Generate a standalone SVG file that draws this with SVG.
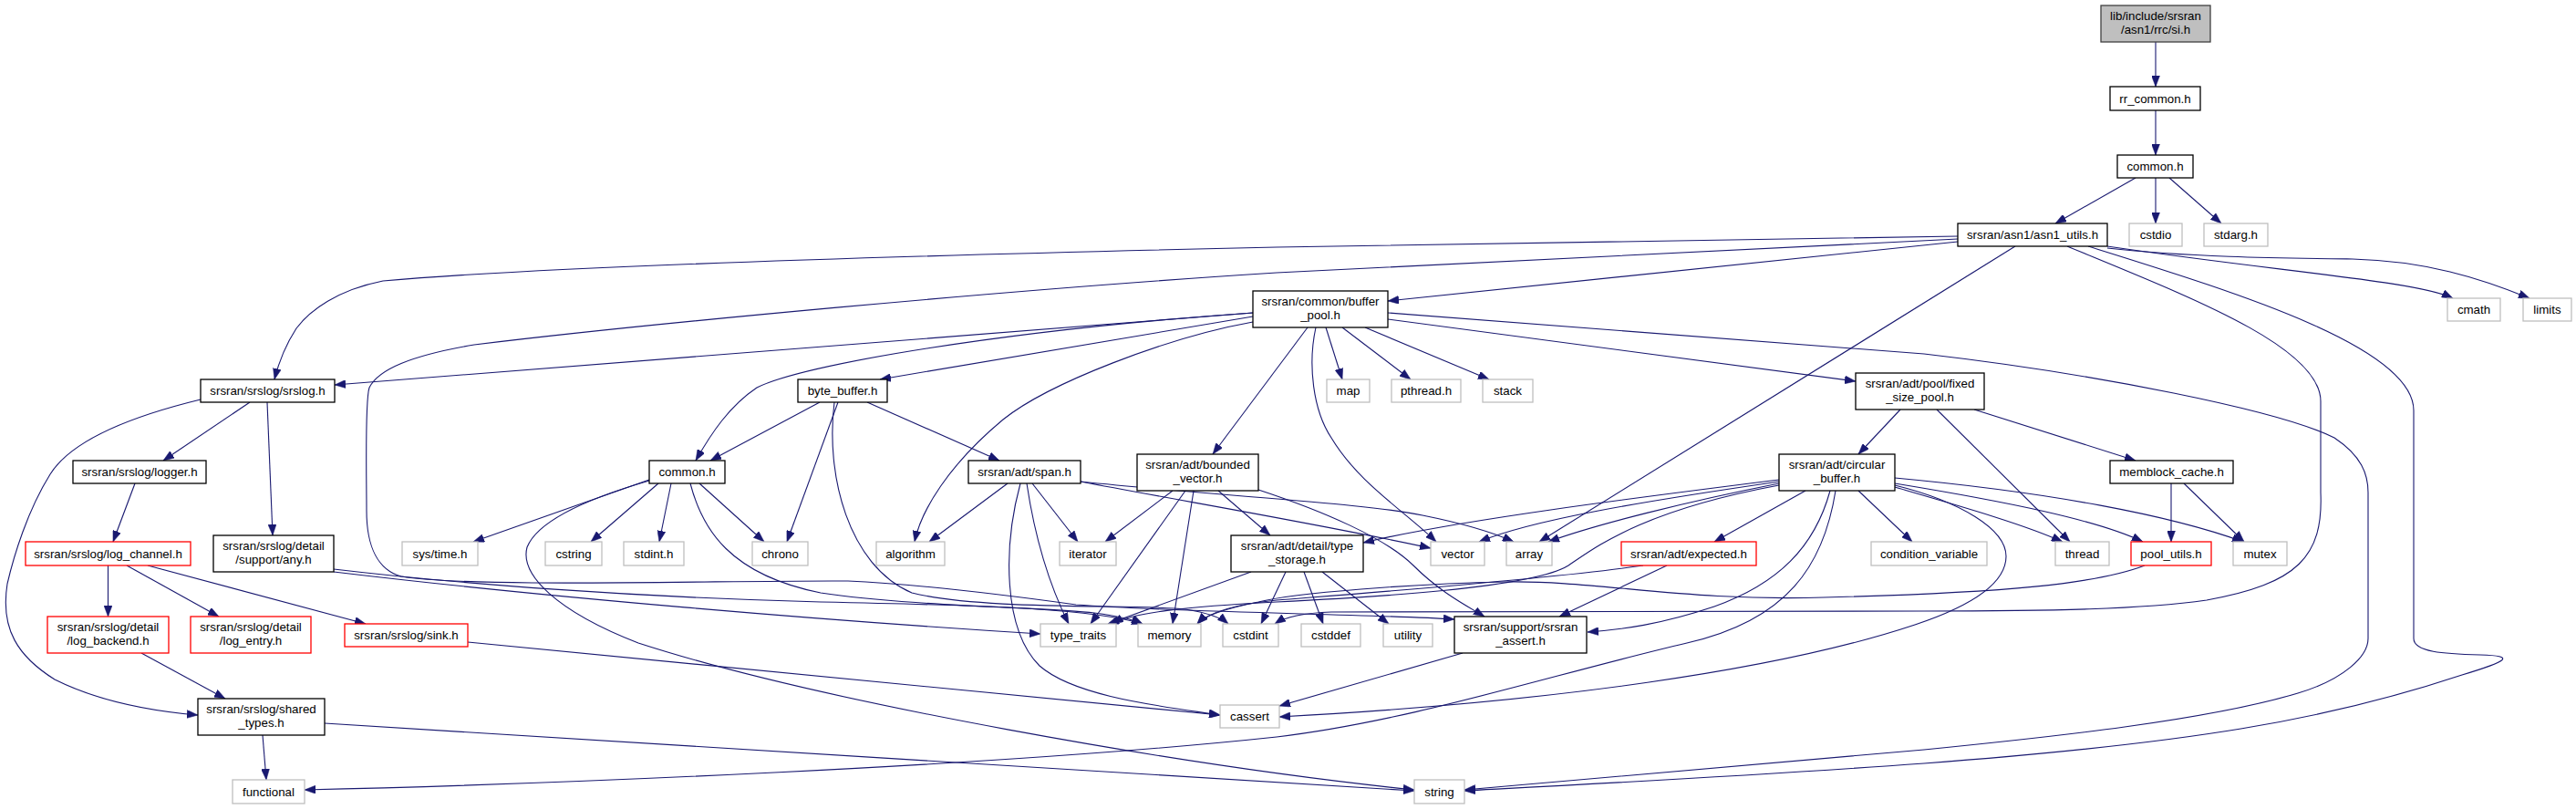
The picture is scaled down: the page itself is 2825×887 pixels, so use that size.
<svg xmlns="http://www.w3.org/2000/svg" width="2825" height="887" viewBox="0 0 2825 887">
<style>
.bg{fill:#ffffff}
.node rect{fill:#ffffff;stroke:#000000;stroke-width:1.3}
.node.ext rect{stroke:#bfbfbf}
.node.red rect{stroke:#ff0000}
.node.root rect{fill:#bfbfbf;stroke:#404040}
.node text{font-family:"Liberation Sans",Arial,Helvetica,sans-serif;font-size:13.3px;fill:#000000;text-anchor:middle}
#edges path{fill:none;stroke:#191970;stroke-width:1.1;marker-end:url(#arr)}
</style>
<defs>
<marker id="arr" viewBox="0 0 12 9" refX="12" refY="4.5" markerWidth="12" markerHeight="9" markerUnits="userSpaceOnUse" orient="auto">
<path d="M0,0 L12,4.5 L0,9 z" fill="#191970" stroke="#191970" stroke-width="0.5"/>
</marker>
</defs>
<rect class="bg" x="0" y="0" width="2825" height="887"/>
<g id="edges">
<path d="M2364,46 L2364,95"/>
<path d="M2364,121 L2364,170"/>
<path d="M2342,195 L2254,245"/>
<path d="M2364,195 L2364,245"/>
<path d="M2379,195 L2436,245"/>
<path d="M2311,270 C2500,298 2650,308 2690,327"/>
<path d="M2311,272 C2400,282 2500,283 2580,284 C2660,286 2720,305 2774,327"/>
<path d="M2210,270 L1688,594"/>
<path d="M2267,270 C2400,325 2545,380 2545,440 L2545,540 C2548,610 2520,640 2420,658 C2350,668 2250,670 2110,670 L1460,671 C1430,672 1410,676 1398,684"/>
<path d="M2290,270 C2450,320 2647,380 2647,450 L2647,700 C2647,715 2680,717 2720,718 C2760,719 2750,725 2700,740 C2550,790 2400,815 2110,837 C1900,852 1700,862 1606,867"/>
<path d="M2147,259 L1400,271 C1000,280 600,292 420,308 C370,318 340,340 325,360 C312,380 305,400 301,416"/>
<path d="M2147,262 L1400,299 C1100,318 700,356 520,378 C450,390 415,405 405,425 C400,440 402,520 402,560 C402,600 415,625 440,632 C520,645 800,636 930,637 C1000,640 1100,652 1180,663 C1300,672 1500,673 1595,679"/>
<path d="M2147,265 L1522,330"/>
<path d="M1374,343 L367,422"/>
<path d="M1374,343 C1100,362 880,400 830,425 C800,445 780,475 763,505"/>
<path d="M1374,347 L965,416"/>
<path d="M1374,353 C1280,370 1150,420 1100,460 C1040,510 1010,560 1003,594"/>
<path d="M1434,359 L1330,498"/>
<path d="M1443,359 C1434,400 1440,450 1460,480 C1490,530 1540,560 1575,594"/>
<path d="M1454,359 L1472,416"/>
<path d="M1472,359 L1547,416"/>
<path d="M1497,359 L1633,416"/>
<path d="M1522,350 L2035,418"/>
<path d="M1522,343 L2110,388 C2300,410 2500,450 2560,480 C2590,500 2597,520 2597,540 L2597,700 C2597,720 2570,745 2520,760 C2420,790 2250,808 2110,822 C1900,840 1700,858 1606,866"/>
<path d="M274,441 L179,505"/>
<path d="M293,441 L299,587"/>
<path d="M220,438 C150,455 80,480 55,520 C30,560 15,610 8,640 C0,690 20,720 60,745 C110,770 170,780 217,784"/>
<path d="M148,530 L124,594"/>
<path d="M118.5,620 L118.5,676"/>
<path d="M139,620 L240,676"/>
<path d="M162,620 L401,684"/>
<path d="M155,716 L247,766"/>
<path d="M288,806 L292,855"/>
<path d="M356,793 C700,815 1200,845 1551,867"/>
<path d="M513,704 L1338,784"/>
<path d="M366,624 C500,640 700,655 900,660 C1100,664 1200,668 1253,684"/>
<path d="M366,627 C600,655 900,680 1141,695"/>
<path d="M712,526 L519,594"/>
<path d="M722,530 L648,594"/>
<path d="M736,530 L723,594"/>
<path d="M767,530 L838,594"/>
<path d="M712,527 C650,545 590,570 578,600 C570,630 610,670 700,705 C900,770 1300,840 1551,866"/>
<path d="M757,530 C770,580 800,630 900,650 C1000,665 1150,666 1200,672 C1230,676 1245,680 1253,684"/>
<path d="M899,441 L779,505"/>
<path d="M919,441 L863,594"/>
<path d="M915,441 C905,520 930,620 1000,650 C1080,670 1250,662 1300,668 C1325,672 1340,678 1347,684"/>
<path d="M951,441 L1096,505"/>
<path d="M1105,530 L1019,594"/>
<path d="M1132,530 L1182,594"/>
<path d="M1126,530 C1135,590 1150,640 1172,684"/>
<path d="M1119,530 C1100,600 1100,690 1140,730 C1180,765 1280,775 1338,784"/>
<path d="M1185,528 C1300,550 1450,575 1569,601"/>
<path d="M1185,528 C1350,545 1500,552 1560,565 C1610,575 1640,585 1660,594"/>
<path d="M1286,538 L1212,594"/>
<path d="M1300,538 L1196,684"/>
<path d="M1309,538 L1286,684"/>
<path d="M1336,538 L1393,587"/>
<path d="M1380,537 C1450,560 1520,590 1550,620 C1580,650 1610,665 1628,676"/>
<path d="M1372,627 L1215,684"/>
<path d="M1410,627 L1383,684"/>
<path d="M1430,627 L1451,684"/>
<path d="M1450,627 L1523,684"/>
<path d="M1951,526 C1800,545 1600,570 1495,595"/>
<path d="M1951,528 C1800,550 1680,570 1622,594"/>
<path d="M1951,530 C1850,550 1750,575 1698,594"/>
<path d="M1951,532 C1800,560 1750,600 1720,620 C1680,645 1500,655 1400,660 C1300,665 1240,672 1220,684"/>
<path d="M1980,538 L1880,594"/>
<path d="M2007,538 C1990,600 1950,640 1880,665 C1820,685 1780,690 1741,693"/>
<path d="M2013,538 C2000,620 1960,680 1850,705 C1700,740 1550,790 1400,808 C1100,840 600,860 334,866"/>
<path d="M2038,538 L2097,594"/>
<path d="M2078,534 C2150,555 2220,575 2262,594"/>
<path d="M2078,530 C2200,550 2300,570 2350,594"/>
<path d="M2078,524 C2250,540 2380,565 2460,594"/>
<path d="M2078,532 C2150,550 2200,580 2200,610 C2200,640 2160,665 2100,685 C1950,735 1700,770 1403,786"/>
<path d="M1802,620 C1700,635 1500,650 1400,658 C1350,663 1325,672 1313,684"/>
<path d="M1828,620 L1710,676"/>
<path d="M2352,620 C2300,640 2200,650 2000,655 C1850,660 1750,636 1650,638 C1550,640 1420,650 1380,660 C1340,668 1320,676 1313,684"/>
<path d="M2084,449 L2038,498"/>
<path d="M2124,449 L2270,594"/>
<path d="M2165,449 L2342,505"/>
<path d="M2381,530 L2381,594"/>
<path d="M2395,530 L2461,594"/>
<path d="M1604,716 L1403,774"/>
</g>
<g id="n-si" class="node root"><rect x="2304" y="6" width="120" height="40"/><text x="2364" y="22">lib/include/srsran</text><text x="2364" y="37">/asn1/rrc/si.h</text></g>
<g id="n-rr_common" class="node"><rect x="2314" y="95" width="99" height="26"/><text x="2363.5" y="112.5">rr_common.h</text></g>
<g id="n-common_top" class="node"><rect x="2322" y="170" width="83" height="25"/><text x="2363.5" y="187">common.h</text></g>
<g id="n-asn1_utils" class="node"><rect x="2147" y="245" width="164" height="25"/><text x="2229" y="262">srsran/asn1/asn1_utils.h</text></g>
<g id="n-cstdio" class="node ext"><rect x="2335" y="245" width="58" height="25"/><text x="2364" y="262">cstdio</text></g>
<g id="n-stdarg" class="node ext"><rect x="2417" y="245" width="70" height="25"/><text x="2452" y="262">stdarg.h</text></g>
<g id="n-cmath" class="node ext"><rect x="2684" y="327" width="58" height="25"/><text x="2713" y="344">cmath</text></g>
<g id="n-limits" class="node ext"><rect x="2767" y="327" width="53" height="25"/><text x="2793.5" y="344">limits</text></g>
<g id="n-buffer_pool" class="node"><rect x="1374" y="319" width="148" height="40"/><text x="1448" y="335">srsran/common/buffer</text><text x="1448" y="350">_pool.h</text></g>
<g id="n-srslog" class="node"><rect x="220" y="416" width="147" height="25"/><text x="293.5" y="433">srsran/srslog/srslog.h</text></g>
<g id="n-byte_buffer" class="node"><rect x="875" y="416" width="98" height="25"/><text x="924" y="433">byte_buffer.h</text></g>
<g id="n-map" class="node ext"><rect x="1455" y="416" width="47" height="25"/><text x="1478.5" y="433">map</text></g>
<g id="n-pthread" class="node ext"><rect x="1526" y="416" width="76" height="25"/><text x="1564" y="433">pthread.h</text></g>
<g id="n-stack" class="node ext"><rect x="1626" y="416" width="55" height="25"/><text x="1653.5" y="433">stack</text></g>
<g id="n-fixed_size_pool" class="node"><rect x="2035" y="409" width="141" height="40"/><text x="2105.5" y="425">srsran/adt/pool/fixed</text><text x="2105.5" y="440">_size_pool.h</text></g>
<g id="n-logger" class="node"><rect x="80" y="505" width="146" height="25"/><text x="153" y="522">srsran/srslog/logger.h</text></g>
<g id="n-common2" class="node"><rect x="712" y="505" width="83" height="25"/><text x="753.5" y="522">common.h</text></g>
<g id="n-span" class="node"><rect x="1062" y="505" width="123" height="25"/><text x="1123.5" y="522">srsran/adt/span.h</text></g>
<g id="n-bounded_vector" class="node"><rect x="1247" y="498" width="133" height="40"/><text x="1313.5" y="514">srsran/adt/bounded</text><text x="1313.5" y="529">_vector.h</text></g>
<g id="n-circular_buffer" class="node"><rect x="1951" y="498" width="127" height="40"/><text x="2014.5" y="514">srsran/adt/circular</text><text x="2014.5" y="529">_buffer.h</text></g>
<g id="n-memblock_cache" class="node"><rect x="2314" y="505" width="135" height="25"/><text x="2381.5" y="522">memblock_cache.h</text></g>
<g id="n-log_channel" class="node red"><rect x="28" y="594" width="181" height="26"/><text x="118.5" y="611.5">srsran/srslog/log_channel.h</text></g>
<g id="n-any" class="node"><rect x="234" y="587" width="132" height="40"/><text x="300" y="603">srsran/srslog/detail</text><text x="300" y="618">/support/any.h</text></g>
<g id="n-sys_time" class="node ext"><rect x="441" y="594" width="83" height="26"/><text x="482.5" y="611.5">sys/time.h</text></g>
<g id="n-cstring" class="node ext"><rect x="598" y="594" width="62" height="26"/><text x="629" y="611.5">cstring</text></g>
<g id="n-stdint" class="node ext"><rect x="684" y="594" width="66" height="26"/><text x="717" y="611.5">stdint.h</text></g>
<g id="n-chrono" class="node ext"><rect x="825" y="594" width="61" height="26"/><text x="855.5" y="611.5">chrono</text></g>
<g id="n-algorithm" class="node ext"><rect x="961" y="594" width="75" height="26"/><text x="998.5" y="611.5">algorithm</text></g>
<g id="n-iterator" class="node ext"><rect x="1162" y="594" width="62" height="26"/><text x="1193" y="611.5">iterator</text></g>
<g id="n-type_storage" class="node"><rect x="1350" y="587" width="145" height="40"/><text x="1422.5" y="603">srsran/adt/detail/type</text><text x="1422.5" y="618">_storage.h</text></g>
<g id="n-vector" class="node ext"><rect x="1569" y="594" width="59" height="26"/><text x="1598.5" y="611.5">vector</text></g>
<g id="n-array" class="node ext"><rect x="1652" y="594" width="50" height="26"/><text x="1677" y="611.5">array</text></g>
<g id="n-expected" class="node red"><rect x="1778" y="594" width="148" height="26"/><text x="1852" y="611.5">srsran/adt/expected.h</text></g>
<g id="n-condition_variable" class="node ext"><rect x="2052" y="594" width="127" height="26"/><text x="2115.5" y="611.5">condition_variable</text></g>
<g id="n-thread" class="node ext"><rect x="2254" y="594" width="59" height="26"/><text x="2283.5" y="611.5">thread</text></g>
<g id="n-pool_utils" class="node red"><rect x="2337" y="594" width="88" height="26"/><text x="2381" y="611.5">pool_utils.h</text></g>
<g id="n-mutex" class="node ext"><rect x="2449" y="594" width="59" height="26"/><text x="2478.5" y="611.5">mutex</text></g>
<g id="n-log_backend" class="node red"><rect x="52" y="676" width="133" height="40"/><text x="118.5" y="692">srsran/srslog/detail</text><text x="118.5" y="707">/log_backend.h</text></g>
<g id="n-log_entry" class="node red"><rect x="209" y="676" width="132" height="40"/><text x="275" y="692">srsran/srslog/detail</text><text x="275" y="707">/log_entry.h</text></g>
<g id="n-sink" class="node red"><rect x="378" y="684" width="135" height="25"/><text x="445.5" y="701">srsran/srslog/sink.h</text></g>
<g id="n-type_traits" class="node ext"><rect x="1141" y="684" width="83" height="25"/><text x="1182.5" y="701">type_traits</text></g>
<g id="n-memory" class="node ext"><rect x="1248" y="684" width="69" height="25"/><text x="1282.5" y="701">memory</text></g>
<g id="n-cstdint" class="node ext"><rect x="1341" y="684" width="61" height="25"/><text x="1371.5" y="701">cstdint</text></g>
<g id="n-cstddef" class="node ext"><rect x="1427" y="684" width="65" height="25"/><text x="1459.5" y="701">cstddef</text></g>
<g id="n-utility" class="node ext"><rect x="1517" y="684" width="54" height="25"/><text x="1544" y="701">utility</text></g>
<g id="n-srsran_assert" class="node"><rect x="1595" y="676" width="145" height="40"/><text x="1667.5" y="692">srsran/support/srsran</text><text x="1667.5" y="707">_assert.h</text></g>
<g id="n-shared_types" class="node"><rect x="217" y="766" width="139" height="40"/><text x="286.5" y="782">srsran/srslog/shared</text><text x="286.5" y="797">_types.h</text></g>
<g id="n-cassert" class="node ext"><rect x="1338" y="773" width="65" height="25"/><text x="1370.5" y="790">cassert</text></g>
<g id="n-functional" class="node ext"><rect x="255" y="855" width="79" height="26"/><text x="294.5" y="872.5">functional</text></g>
<g id="n-string" class="node ext"><rect x="1551" y="855" width="55" height="26"/><text x="1578.5" y="872.5">string</text></g>
</svg>
